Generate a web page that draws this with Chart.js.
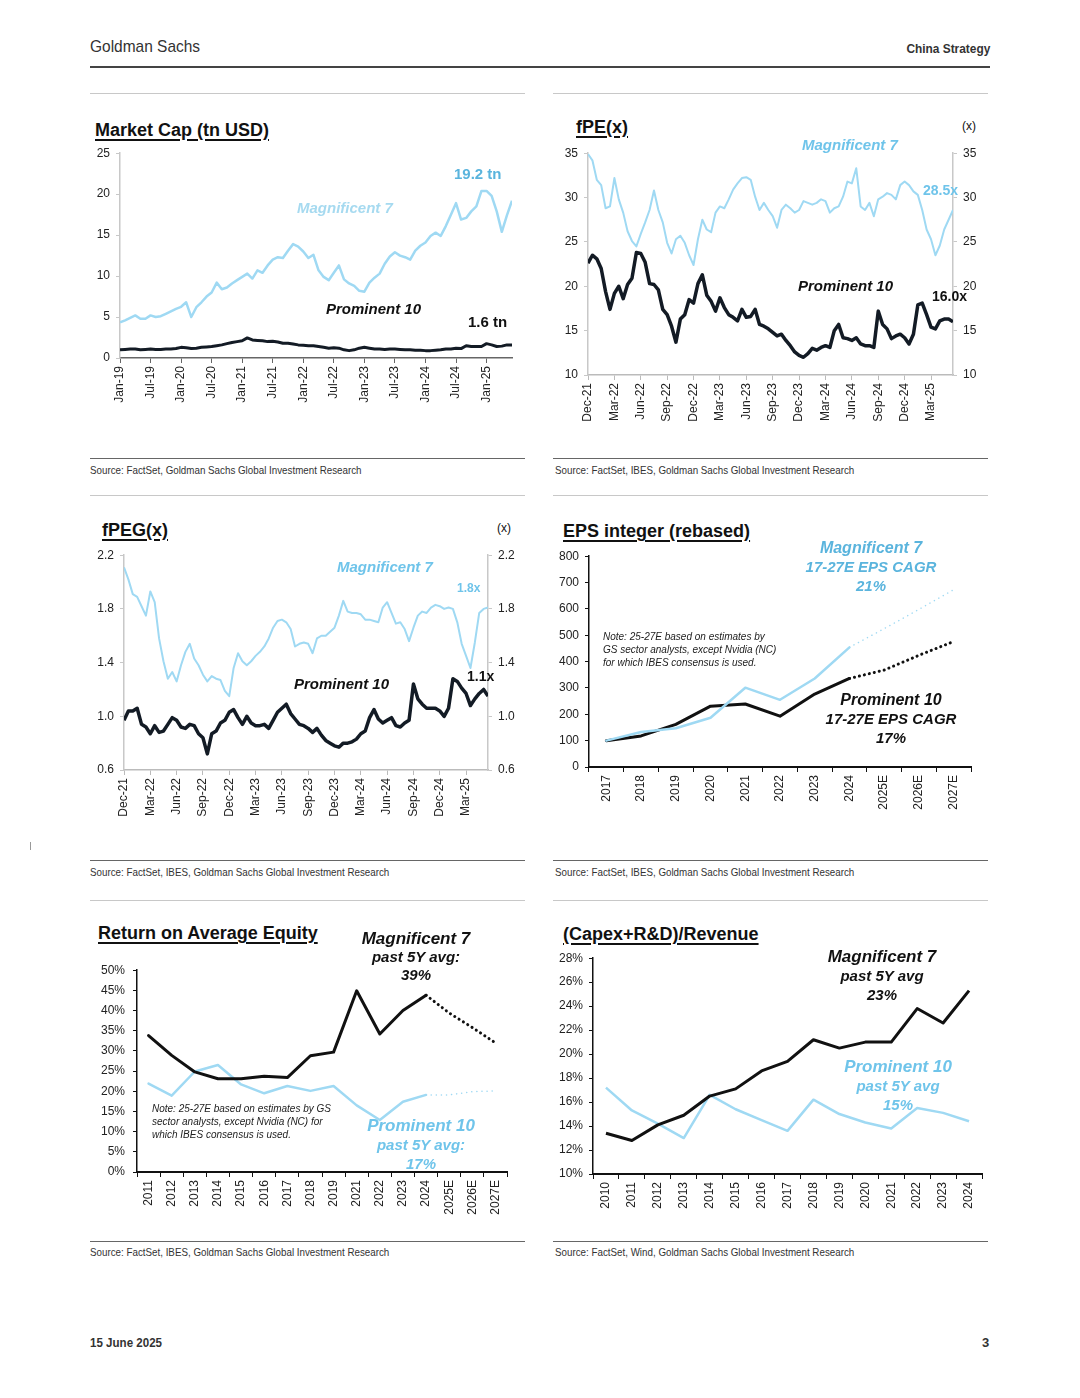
<!DOCTYPE html>
<html>
<head>
<meta charset="utf-8">
<script src="https://cdn.jsdelivr.net/npm/chart.js@4.4.1/dist/chart.umd.min.js"></script>
<style>
  body { margin: 0; background: #fff; font-family: 'Liberation Sans', Arial, sans-serif; color: #111; }
  .page { position: relative; width: 1080px; height: 1398px; overflow: hidden; }
  .abs { position: absolute; white-space: nowrap; }
  .narrow { transform-origin: left top; transform: scaleX(0.89); }
  .title { font-weight: bold; font-size: 18px; text-decoration: underline; text-decoration-thickness: 2px; text-underline-offset: 3px; }
  .lab { font-weight: bold; font-style: italic; font-size: 15px; }
  .num { font-weight: bold; font-size: 15px; }
  .blk { text-align: center; transform: translateX(-50%); font-weight: bold; font-style: italic; font-size: 15px; line-height: 19px; }
  .note { font-style: italic; font-size: 10px; line-height: 13px; color: #222; }
  .src { font-size: 11px; color: #333; }
  .rule { position: absolute; height: 1px; }
  .box { position: absolute; }
  .blue { color: #6fc4ea; }
  .pale { color: #a6daf0; }
</style>
</head>
<body>
<div class="page">
  <div class="abs narrow" style="left:90px;top:37px;font-size:17px;color:#333;transform:scaleX(0.91);">Goldman Sachs</div>
  <div class="abs" style="right:90px;top:41px;font-size:13.5px;font-weight:bold;color:#333;transform-origin:right top;transform:scaleX(0.88);">China Strategy</div>
  <div class="rule" style="left:90px;top:66px;width:900px;height:2px;background:#444;"></div>
  <div class="rule" style="left:30px;top:842px;width:1px;height:8px;background:#999;"></div>

  <div class="rule" style="left:90px;top:93px;width:435px;background:#c8c8c8;"></div>
  <div class="rule" style="left:553px;top:93px;width:435px;background:#c8c8c8;"></div>
  <div class="rule" style="left:90px;top:495px;width:435px;background:#c8c8c8;"></div>
  <div class="rule" style="left:553px;top:495px;width:435px;background:#c8c8c8;"></div>
  <div class="rule" style="left:90px;top:900px;width:435px;background:#c8c8c8;"></div>
  <div class="rule" style="left:553px;top:900px;width:435px;background:#c8c8c8;"></div>

  <div class="rule" style="left:90px;top:458px;width:435px;background:#666;"></div>
  <div class="rule" style="left:553px;top:458px;width:435px;background:#666;"></div>
  <div class="rule" style="left:90px;top:860px;width:435px;background:#666;"></div>
  <div class="rule" style="left:553px;top:860px;width:435px;background:#666;"></div>
  <div class="rule" style="left:90px;top:1241px;width:435px;background:#666;"></div>
  <div class="rule" style="left:553px;top:1241px;width:435px;background:#666;"></div>

  <div class="abs narrow src" style="left:90px;top:464px;">Source: FactSet, Goldman Sachs Global Investment Research</div>
  <div class="abs narrow src" style="left:555px;top:464px;">Source: FactSet, IBES, Goldman Sachs Global Investment Research</div>
  <div class="abs narrow src" style="left:90px;top:866px;">Source: FactSet, IBES, Goldman Sachs Global Investment Research</div>
  <div class="abs narrow src" style="left:555px;top:866px;">Source: FactSet, IBES, Goldman Sachs Global Investment Research</div>
  <div class="abs narrow src" style="left:90px;top:1246px;">Source: FactSet, IBES, Goldman Sachs Global Investment Research</div>
  <div class="abs narrow src" style="left:555px;top:1246px;">Source: FactSet, Wind, Goldman Sachs Global Investment Research</div>

  <!-- chart 1 -->
  <div class="abs title" style="left:95px;top:120px;">Market Cap (tn USD)</div>
  <div class="box" style="left:85px;top:140px;width:440px;height:280px;"><canvas id="mc"></canvas></div>
  <div class="abs num" style="left:454px;top:165px;color:#5ab4dd;">19.2 tn</div>
  <div class="abs lab pale" style="left:297px;top:199px;">Magnificent 7</div>
  <div class="abs lab" style="left:326px;top:300px;">Prominent 10</div>
  <div class="abs num" style="left:468px;top:313px;">1.6 tn</div>

  <!-- chart 2 -->
  <div class="abs title" style="left:576px;top:117px;">fPE(x)</div>
  <div class="abs" style="left:962px;top:119px;font-size:12px;">(x)</div>
  <div class="box" style="left:550px;top:140px;width:440px;height:300px;"><canvas id="pe"></canvas></div>
  <div class="abs lab blue" style="left:802px;top:136px;">Magnificent 7</div>
  <div class="abs num blue" style="left:923px;top:182px;font-size:14px;">28.5x</div>
  <div class="abs lab" style="left:798px;top:277px;">Prominent 10</div>
  <div class="abs num" style="left:932px;top:288px;font-size:14px;">16.0x</div>

  <!-- chart 3 -->
  <div class="abs title" style="left:102px;top:520px;">fPEG(x)</div>
  <div class="abs" style="left:497px;top:521px;font-size:12px;">(x)</div>
  <div class="box" style="left:85px;top:542px;width:440px;height:300px;"><canvas id="peg"></canvas></div>
  <div class="abs lab blue" style="left:337px;top:558px;">Magnificent 7</div>
  <div class="abs num blue" style="left:457px;top:581px;font-size:12px;">1.8x</div>
  <div class="abs lab" style="left:294px;top:675px;">Prominent 10</div>
  <div class="abs num" style="left:467px;top:668px;font-size:14px;">1.1x</div>

  <!-- chart 4 -->
  <div class="abs title" style="left:563px;top:521px;">EPS integer (rebased)</div>
  <div class="box" style="left:550px;top:543px;width:440px;height:300px;"><canvas id="eps"></canvas></div>
  <div class="abs blk" style="left:871px;top:538px;color:#5ab4dd;"><span style="font-size:16px;">Magnificent 7</span><br>17-27E EPS CAGR<br>21%</div>
  <div class="abs note" style="left:603px;top:630px;">Note: 25-27E based on estimates by<br>GS sector analysts, except Nvidia (NC)<br>for which IBES consensus is used.</div>
  <div class="abs blk" style="left:891px;top:690px;"><span style="font-size:16px;">Prominent 10</span><br>17-27E EPS CAGR<br>17%</div>

  <!-- chart 5 -->
  <div class="abs title" style="left:98px;top:923px;">Return on Average Equity</div>
  <div class="box" style="left:85px;top:955px;width:440px;height:290px;"><canvas id="roae"></canvas></div>
  <div class="abs blk" style="left:416px;top:930px;line-height:18px;"><span style="font-size:17px;">Magnificent 7</span><br>past 5Y avg:<br>39%</div>
  <div class="abs note" style="left:152px;top:1102px;">Note: 25-27E based on estimates by GS<br>sector analysts, except Nvidia (NC) for<br>which IBES consensus is used.</div>
  <div class="abs blk blue" style="left:421px;top:1116px;line-height:19px;"><span style="font-size:17px;">Prominent 10</span><br>past 5Y avg:<br>17%</div>

  <!-- chart 6 -->
  <div class="abs title" style="left:563px;top:924px;">(Capex+R&amp;D)/Revenue</div>
  <div class="box" style="left:550px;top:945px;width:440px;height:300px;"><canvas id="capex"></canvas></div>
  <div class="abs blk" style="left:882px;top:947px;"><span style="font-size:17px;">Magnificent 7</span><br>past 5Y avg<br>23%</div>
  <div class="abs blk blue" style="left:898px;top:1057px;"><span style="font-size:17px;">Prominent 10</span><br>past 5Y avg<br>15%</div>

  <div class="abs narrow" style="left:90px;top:1335px;font-size:13px;font-weight:bold;color:#333;">15 June 2025</div>
  <div class="abs" style="left:982px;top:1335px;font-size:13px;font-weight:bold;color:#333;">3</div>
</div>

<script>
// ---- data ----
// Market cap (tn USD), monthly Jan-19 .. Jun-25
const MC_TICKS = ['Jan-19', 'Jul-19', 'Jan-20', 'Jul-20', 'Jan-21', 'Jul-21', 'Jan-22', 'Jul-22', 'Jan-23', 'Jul-23', 'Jan-24', 'Jul-24', 'Jan-25'];
const MC_MAG7 = [
  4.35, 4.6, 4.9, 5.2, 4.8, 4.8, 5.2, 5.0, 5.1, 5.4, 5.7, 6.0,
  6.25, 6.8, 5.0, 6.2, 6.8, 7.5, 8.0, 9.2, 8.4, 8.6, 9.1, 9.5,
  9.9, 10.3, 9.7, 10.7, 10.4, 11.3, 12.0, 12.3, 12.2, 13.1, 13.9, 13.6,
  13.0, 12.2, 12.6, 10.7, 9.9, 9.5, 10.4, 11.3, 9.6, 9.1, 8.8, 8.2,
  8.1, 9.2, 9.8, 10.3, 11.5, 12.4, 12.9, 12.5, 12.3, 12.0, 13.1, 13.7,
  14.1, 14.9, 15.3, 14.9, 16.1, 17.5, 18.9, 16.9, 17.1, 17.9, 18.5, 20.4,
  20.4, 19.8, 17.9, 15.4, 17.4, 19.2
];
const MC_P10 = [
  1.0, 1.05, 1.1, 1.1, 1.0, 1.05, 1.1, 1.05, 1.05, 1.1, 1.1, 1.15,
  1.3, 1.25, 1.15, 1.2, 1.3, 1.35, 1.4, 1.5, 1.6, 1.75, 1.9, 2.0,
  2.1, 2.45, 2.2, 2.15, 2.1, 2.0, 2.05, 1.95, 1.8, 1.8, 1.7, 1.6,
  1.55, 1.5, 1.5, 1.4, 1.3, 1.2, 1.25, 1.2, 1.0, 0.9, 1.0, 1.2,
  1.3, 1.2, 1.1, 1.1, 1.05, 1.1, 1.1, 1.05, 1.0, 1.0, 0.95, 0.95,
  0.9, 0.9, 0.95, 1.0, 1.1, 1.1, 1.2, 1.15, 1.5, 1.4, 1.4, 1.4,
  1.75, 1.6, 1.4, 1.45, 1.6, 1.6
];

// fPE / fPEG, half-monthly Dec-21 .. mid Jun-25
const Q_TICKS = ['Dec-21', 'Mar-22', 'Jun-22', 'Sep-22', 'Dec-22', 'Mar-23', 'Jun-23', 'Sep-23', 'Dec-23', 'Mar-24', 'Jun-24', 'Sep-24', 'Dec-24', 'Mar-25'];
const PE_MAG7 = [
  34.9, 34.2, 32.0, 31.4, 28.8, 29.0, 32.2, 29.8, 28.3, 26.2,
  25.1, 24.5, 25.9, 27.2, 28.6, 30.8, 28.6, 27.2, 24.9, 23.7,
  25.3, 25.7, 24.9, 23.5, 22.4, 25.3, 27.5, 26.4, 26.1, 28.3,
  29.0, 28.8, 29.8, 30.9, 31.6, 32.2, 32.3, 32.0, 30.1, 28.6,
  29.4, 28.6, 27.9, 26.6, 28.6, 29.2, 28.8, 28.3, 28.6, 29.6,
  29.4, 29.2, 29.4, 29.8, 29.6, 28.3, 28.8, 29.0, 30.1, 31.8,
  31.6, 33.3, 29.0, 28.6, 29.4, 27.9, 29.8, 30.1, 30.5, 30.3,
  29.8, 31.4, 31.8, 31.4, 30.7, 30.3, 28.6, 26.4, 25.3, 23.5,
  24.6, 26.4, 27.5, 28.6
];
const PE_P10 = [
  22.6, 23.5, 23.1, 22.0, 19.4, 17.4, 19.2, 20.0, 18.6, 20.2,
  20.9, 23.8, 23.7, 22.7, 20.3, 20.2, 19.6, 17.4, 16.8, 15.5,
  13.7, 16.3, 16.8, 18.5, 18.1, 20.3, 21.3, 19.0, 18.3, 17.2,
  18.7, 17.6, 16.8, 16.5, 16.1, 17.4, 16.5, 16.6, 17.4, 15.7,
  15.5, 15.2, 14.8, 14.4, 14.6, 13.9, 13.3, 12.6, 12.2, 12.0,
  12.4, 13.0, 12.8, 13.1, 13.3, 13.1, 15.0, 15.7, 14.2, 14.1,
  13.9, 14.2, 13.5, 13.3, 13.3, 13.1, 17.2, 15.7, 15.2, 14.1,
  14.4, 14.6, 14.2, 13.5, 14.6, 17.9, 18.1, 16.8, 15.4, 15.2,
  16.1, 16.3, 16.3, 16.0
];
const PEG_MAG7 = [
  2.11, 2.02, 1.91, 1.89, 1.82, 1.75, 1.93, 1.85, 1.58, 1.41,
  1.28, 1.33, 1.26, 1.38, 1.48, 1.54, 1.43, 1.38, 1.31, 1.26,
  1.30, 1.28, 1.27, 1.19, 1.15, 1.36, 1.47, 1.41, 1.38, 1.41,
  1.45, 1.48, 1.52, 1.58, 1.66, 1.71, 1.72, 1.70, 1.65, 1.52,
  1.54, 1.55, 1.54, 1.47, 1.58, 1.60, 1.60, 1.63, 1.66, 1.75,
  1.86, 1.78, 1.77, 1.77, 1.76, 1.72, 1.72, 1.71, 1.70, 1.81,
  1.85, 1.77, 1.69, 1.70, 1.65, 1.56, 1.66, 1.75, 1.78, 1.77,
  1.81, 1.83, 1.82, 1.80, 1.81, 1.80, 1.70, 1.54, 1.45, 1.36,
  1.55, 1.77, 1.80, 1.81
];
const PEG_P10 = [
  0.97, 1.04, 1.04, 1.06, 0.94, 0.92, 0.87, 0.93, 0.88, 0.89,
  0.94, 0.99, 0.97, 0.92, 0.91, 0.94, 0.93, 0.87, 0.84, 0.72,
  0.87, 0.89, 0.95, 0.97, 1.03, 1.05, 0.99, 0.94, 1.00, 0.95,
  0.93, 0.93, 0.94, 0.91, 0.97, 1.03, 1.06, 1.09, 1.02, 0.98,
  0.94, 0.93, 0.91, 0.88, 0.91, 0.86, 0.82, 0.80, 0.78, 0.77,
  0.80, 0.80, 0.81, 0.83, 0.87, 0.89, 0.99, 1.05, 0.98, 0.95,
  0.97, 0.99, 0.93, 0.92, 0.95, 0.97, 1.24, 1.13, 1.09, 1.06,
  1.06, 1.06, 1.04, 1.00, 1.06, 1.28, 1.26, 1.21, 1.17, 1.08,
  1.13, 1.17, 1.20, 1.15
];

// EPS (rebased, 2017 = 100)
const EPS_YEARS = ['2017', '2018', '2019', '2020', '2021', '2022', '2023', '2024', '2025E', '2026E', '2027E'];
const EPS_MAG7 = [100, 133, 147, 187, 301, 255, 336, 454, 525, 598, 673];
const EPS_P10 = [100, 118, 162, 231, 239, 193, 277, 336, 368, 424, 476];

// Return on average equity (%)
const ROAE_YEARS = ['2011', '2012', '2013', '2014', '2015', '2016', '2017', '2018', '2019', '2021', '2022', '2023', '2024', '2025E', '2026E', '2027E'];
const ROAE_MAG7 = [33.8, 28.9, 24.8, 23.1, 23.1, 23.7, 23.4, 28.8, 29.7, 44.9, 34.2, 40.0, 43.8, 39.4, 35.8, 32.0];
const ROAE_P10 = [21.9, 18.9, 24.9, 26.5, 21.7, 19.5, 21.3, 20.1, 21.3, 16.5, 12.9, 17.4, 19.1, 19.1, 19.9, 20.1];

// (Capex + R&D) / revenue (%)
const CAPEX_YEARS = ['2010', '2011', '2012', '2013', '2014', '2015', '2016', '2017', '2018', '2019', '2020', '2021', '2022', '2023', '2024'];
const CAPEX_MAG7 = [13.4, 12.8, 14.1, 14.9, 16.5, 17.1, 18.6, 19.4, 21.2, 20.5, 21.0, 21.0, 23.8, 22.6, 25.3];
const CAPEX_P10 = [17.2, 15.3, 14.2, 13.0, 16.6, 15.4, 14.5, 13.6, 16.2, 15.0, 14.3, 13.8, 15.5, 15.1, 14.4];

// ---- styling ----
const LIGHT = '#9fd9f3';
const DARK = '#131b25';

Chart.defaults.font.family = "'Liberation Sans', Arial, sans-serif";
Chart.defaults.font.size = 12;
Chart.defaults.color = '#222';
Chart.defaults.animation = false;
Chart.defaults.events = [];
Chart.defaults.plugins.legend.display = false;
Chart.defaults.plugins.tooltip.enabled = false;
Chart.defaults.elements.point.radius = 0;
Chart.defaults.elements.line.borderJoinStyle = 'round';

function fixW(w) { return s => { s.width = w; }; }
function fixH(h) { return s => { s.height = h; }; }

function yAxis(w, min, max, step, col, opts) {
  return Object.assign({
    min: min, max: max,
    afterFit: fixW(w),
    border: { color: col, width: 1.5 },
    grid: { drawOnChartArea: false, tickLength: 4, color: col },
    ticks: { stepSize: step, padding: 6 }
  }, opts || {});
}

function timeX(h, max, step, labels, col) {
  return {
    type: 'linear', min: 0, max: max,
    afterFit: fixH(h),
    border: { color: col, width: 1.5 },
    grid: { drawOnChartArea: false, tickLength: 5, color: col },
    ticks: {
      stepSize: step, autoSkip: false, minRotation: 90, maxRotation: 90, padding: 3,
      callback: v => labels[v / step]
    }
  };
}

function catX(h) {
  return {
    type: 'category', offset: true,
    afterFit: fixH(h),
    border: { color: '#111', width: 2 },
    grid: { drawOnChartArea: false, offset: true, tickLength: 5, color: '#111' },
    ticks: { autoSkip: false, minRotation: 90, maxRotation: 90, padding: 3 }
  };
}

function pts(arr, step) { return arr.map((v, i) => ({ x: i * step, y: v })); }

function dotted(from, w) {
  return {
    borderDash: c => c.p0DataIndex >= from ? [0.1, 5] : undefined,
    borderWidth: c => c.p0DataIndex >= from ? w : undefined
  };
}

function make(id, data, scales, pad) {
  return new Chart(document.getElementById(id), {
    type: 'line',
    data: data,
    options: {
      responsive: true, maintainAspectRatio: false,
      layout: { padding: pad },
      scales: scales
    }
  });
}

// market cap
make('mc', {
  datasets: [
    { data: pts(MC_MAG7, 1), borderColor: LIGHT, borderWidth: 2.5 },
    { data: pts(MC_P10, 1), borderColor: DARK, borderWidth: 3 }
  ]
}, {
  x: timeX(62, 77, 6, MC_TICKS, '#666'),
  y: yAxis(35, 0, 25, 5, '#c8c8c8')
}, { top: 10, right: 13, left: 0, bottom: 0 });

// fPE
make('pe', {
  datasets: [
    { data: pts(PE_MAG7, 0.5), borderColor: LIGHT, borderWidth: 2 },
    { data: pts(PE_P10, 0.5), borderColor: DARK, borderWidth: 3.5 }
  ]
}, {
  x: timeX(65, 41.5, 3, Q_TICKS, '#bbb'),
  y: yAxis(38, 10, 35, 5, '#c8c8c8'),
  y2: yAxis(37, 10, 35, 5, '#c8c8c8', { position: 'right' })
}, { top: 9, right: 0, left: 0, bottom: 0 });

// fPEG
make('peg', {
  datasets: [
    { data: pts(PEG_MAG7, 0.5), borderColor: LIGHT, borderWidth: 2 },
    { data: pts(PEG_P10, 0.5), borderColor: DARK, borderWidth: 3.5 }
  ]
}, {
  x: timeX(72, 41.5, 3, Q_TICKS, '#bbb'),
  y: yAxis(39, 0.6, 2.2, 0.4, '#c8c8c8', { ticks: { stepSize: 0.4, padding: 6, callback: v => v.toFixed(1) } }),
  y2: yAxis(37, 0.6, 2.2, 0.4, '#c8c8c8', { position: 'right', ticks: { stepSize: 0.4, padding: 6, callback: v => v.toFixed(1) } })
}, { top: 10, right: 0, left: 0, bottom: 0 });

// EPS
make('eps', {
  labels: EPS_YEARS,
  datasets: [
    { data: EPS_MAG7, borderColor: LIGHT, borderWidth: 2.5, borderCapStyle: 'round', segment: dotted(7, 1.5) },
    { data: EPS_P10, borderColor: '#111', borderWidth: 3, borderCapStyle: 'round', segment: dotted(7, 3) }
  ]
}, {
  x: catX(76),
  y: yAxis(39, 0, 800, 100, '#111')
}, { top: 10, right: 19, left: 0, bottom: 0 });

// ROAE
make('roae', {
  labels: ROAE_YEARS,
  datasets: [
    { data: ROAE_MAG7, borderColor: '#111', borderWidth: 3, borderCapStyle: 'round', segment: dotted(12, 3) },
    { data: ROAE_P10, borderColor: LIGHT, borderWidth: 2.5, borderCapStyle: 'round', segment: dotted(12, 1.5) }
  ]
}, {
  x: catX(73),
  y: yAxis(52, 0, 50, 5, '#111', { ticks: { stepSize: 5, padding: 8, callback: v => v + '%' } })
}, { top: 9, right: 18, left: 0, bottom: 0 });

// capex + R&D
make('capex', {
  labels: CAPEX_YEARS,
  datasets: [
    { data: CAPEX_MAG7, borderColor: '#111', borderWidth: 3 },
    { data: CAPEX_P10, borderColor: LIGHT, borderWidth: 2.5 }
  ]
}, {
  x: catX(71),
  y: yAxis(43, 10, 28, 2, '#111', { ticks: { stepSize: 2, padding: 6, callback: v => v + '%' } })
}, { top: 9, right: 8, left: 0, bottom: 0 });
</script>
</body>
</html>
